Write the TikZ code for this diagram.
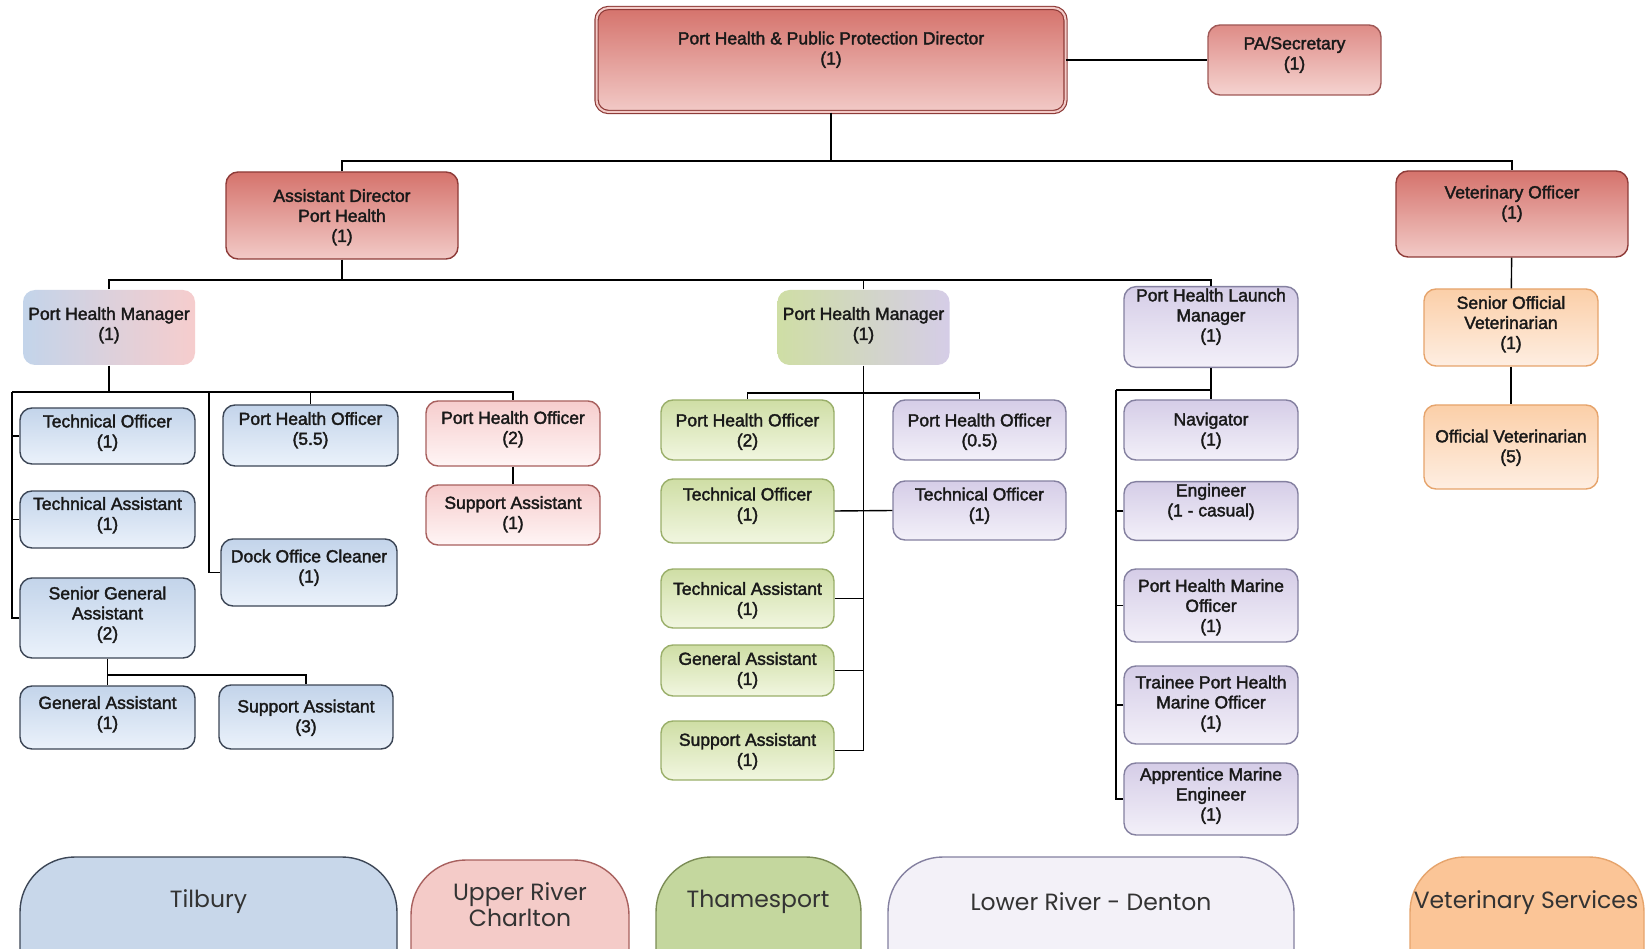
\documentclass[tikz,border=0pt]{standalone}
\usepackage{fontspec}
\setmainfont{Liberation Sans}
\newfontfamily\boxfont{Liberation Sans}[FakeBold=2]
\newfontfamily\legendfont{Poppins}
\usepackage{xcolor}
\usetikzlibrary{calc}

\definecolor{redtop}{HTML}{D5736C}
\definecolor{redbot}{HTML}{F2CAC7}
\definecolor{redline}{HTML}{8E3B38}
\definecolor{patop}{HTML}{DE8C87}
\definecolor{pabot}{HTML}{F5D3D0}
\definecolor{tiltop}{HTML}{C3D4EA}
\definecolor{tilbot}{HTML}{EBF2FB}
\definecolor{tilline}{HTML}{3C4656}
\definecolor{uprtop}{HTML}{F6CDCD}
\definecolor{uprbot}{HTML}{FFF5F5}
\definecolor{uprline}{HTML}{A8605E}
\definecolor{thmtop}{HTML}{CFDEA5}
\definecolor{thmbot}{HTML}{F1F6E0}
\definecolor{thmline}{HTML}{9AAF6A}
\definecolor{lowtop}{HTML}{D5CDE7}
\definecolor{lowbot}{HTML}{F3F0F9}
\definecolor{lowline}{HTML}{8480A0}
\definecolor{vettop}{HTML}{FBCFA8}
\definecolor{vetbot}{HTML}{FEEEE2}
\definecolor{vetline}{HTML}{E6A46C}
\definecolor{tilarea}{HTML}{C8D7EA}
\definecolor{uprarea}{HTML}{F4CBC8}
\definecolor{thmarea}{HTML}{C4D79E}
\definecolor{lowarea}{HTML}{F3F1F8}
\definecolor{vetarea}{HTML}{FBC597}

\begin{document}
\begin{tikzpicture}[x=1pt, y=-1pt,
		post/.style={line width=1.4pt, rounded corners=12pt, align=center, text=black!90,
			font=\boxfont\fontsize{17.5}{20}\selectfont, inner sep=2pt, text depth=10pt,
			minimum width=174pt},
		head/.style={post, draw=redline, top color=redtop, bottom color=redbot},
		pa/.style={post, draw=redline!85, top color=patop, bottom color=pabot},
		tilbury/.style={post, draw=tilline, top color=tiltop, bottom color=tilbot},
		upper/.style={post, draw=uprline, top color=uprtop, bottom color=uprbot},
		thames/.style={post, draw=thmline, top color=thmtop, bottom color=thmbot},
		lower/.style={post, draw=lowline, top color=lowtop, bottom color=lowbot},
		vet/.style={post, draw=vetline, top color=vettop, bottom color=vetbot},
		manager/.style={post, draw=none},
		link/.style={line width=1.4pt},
		area/.style={line width=1.4pt, rounded corners=55pt},
		areatext/.style={font=\legendfont\fontsize{23.5}{26}\selectfont, align=center, text=black!80}]
	\useasboundingbox (0,0) rectangle (1652,949);
	\fill[white] (0,0) rectangle (1652,949);

	\node[head, double=redbot, double distance=2pt, line width=1.2pt, minimum width=469pt, minimum height=104pt, text depth=24pt] (dir) at (831,60) {Port Health \& Public Protection Director\\(1)};
	\node[pa, minimum width=173pt, minimum height=70pt, text depth=14pt] (pa) at (1294.5,60) {PA/Secretary\\(1)};
	\node[head, minimum width=232pt, minimum height=87pt, text depth=0pt] (ad) at (342,215.5) {Assistant Director\\Port Health\\(1)};
	\node[head, minimum width=232pt, minimum height=86pt, text depth=24pt] (vo) at (1512,214) {Veterinary Officer\\(1)};

	\node[manager, left color=tiltop, right color=uprtop, minimum width=172pt, minimum height=75pt, text depth=8pt] (phm1) at (109,327.5) {Port Health Manager\\(1)};
	\node[manager, left color=thmtop, right color=lowtop, minimum width=172pt, minimum height=75pt, text depth=8pt] (phm2) at (863.5,327.5) {Port Health Manager\\(1)};
	\node[lower, minimum height=78pt, text depth=24pt] (phlm) at (1211,327) {Port Health Launch\\Manager\\(1)};
	\node[vet, minimum height=77pt, text depth=10pt] (sov) at (1511,327.5) {Senior Official\\Veterinarian\\(1)};
	\node[vet, minimum height=84pt, text depth=2pt] (ov) at (1511,447) {Official Veterinarian\\(5)};

	\node[tilbury, minimum width=175pt, minimum height=56pt] (tTO) at (107.5,436) {Technical Officer\\(1)};
	\node[tilbury, minimum width=175pt, minimum height=57pt, text depth=12pt] (tTA) at (107.5,519.5) {Technical Assistant\\(1)};
	\node[tilbury, minimum width=175pt, minimum height=80pt] (tSGA) at (107.5,618) {Senior General\\Assistant\\(2)};
	\node[tilbury, minimum width=175pt, minimum height=63pt] (tGA) at (107.5,717.5) {General Assistant\\(1)};
	\node[tilbury, minimum height=64pt, text depth=2pt] (tSA) at (306,717) {Support Assistant\\(3)};
	\node[tilbury, minimum width=175pt, minimum height=61pt, text depth=14pt] (tPHO) at (310.5,435.5) {Port Health Officer\\(5.5)};
	\node[tilbury, minimum width=176pt, minimum height=67pt, text depth=13pt] (tDOC) at (309,572.5) {Dock Office Cleaner\\(1)};
	\node[upper, minimum height=65pt, text depth=12pt] (uPHO) at (513,433.5) {Port Health Officer\\(2)};
	\node[upper, minimum height=60pt, text depth=5pt] (uSA) at (513,515) {Support Assistant\\(1)};

	\node[thames, minimum width=173pt, minimum height=60pt, text depth=0pt] (mPHO) at (747.5,430) {Port Health Officer\\(2)};
	\node[thames, minimum width=173pt, minimum height=64pt, text depth=14pt] (mTO) at (747.5,511) {Technical Officer\\(1)};
	\node[thames, minimum width=173pt, minimum height=59pt, text depth=0pt] (mTA) at (747.5,598.5) {Technical Assistant\\(1)};
	\node[thames, minimum width=173pt, minimum height=51pt, text depth=4pt] (mGA) at (747.5,670.5) {General Assistant\\(1)};
	\node[thames, minimum width=173pt, minimum height=59pt, text depth=2pt] (mSA) at (747.5,750.5) {Support Assistant\\(1)};
	\node[lower, minimum width=173pt, minimum height=60pt, text depth=0pt] (lPHO) at (979.5,430) {Port Health Officer\\(0.5)};
	\node[lower, minimum width=173pt, minimum height=59pt, text depth=13pt] (lTO) at (979.5,510.5) {Technical Officer\\(1)};

	\node[lower, minimum height=60pt, text depth=2pt] (lNav) at (1211,430) {Navigator\\(1)};
	\node[lower, minimum height=56pt, text depth=22pt] (lEng) at (1211,511) {Engineer\\(1 - casual)};
	\node[lower, minimum height=73pt, text depth=0pt] (lPHMO) at (1211,605.5) {Port Health Marine\\Officer\\(1)};
	\node[lower, minimum height=78pt, text depth=6pt] (lTPHMO) at (1211,705) {Trainee Port Health\\Marine Officer\\(1)};
	\node[lower, minimum height=72pt, text depth=10pt] (lAME) at (1211,799) {Apprentice Marine\\Engineer\\(1)};

	\coordinate (b1) at (831,161);
	\coordinate (b2) at (342,280);
	\coordinate (b3) at (109,392);
	\coordinate (t1) at (12,392);
	\coordinate (t2) at (209,392);
	\coordinate (b4) at (107.5,675);
	\coordinate (m1) at (863.5,393);
	\coordinate (l1) at (1116,390);

	\draw[link] (dir) -- (pa);
	\draw[link] (dir.south) -- (b1);
	\draw[link] (ad.north) |- (b1) -| (vo.north);
	\draw[link] (ad.south) -- (b2);
	\draw[link] (phm1.north) |- (b2) -| (phlm.north);
	\draw[link] (phm2.north) -- (phm2.north |- b2);
	\draw[link] (vo) -- (sov);
	\draw[link] (sov) -- (ov);

	\draw[link] (phm1.south) -- (b3);
	\draw[link] (t1) -| (uPHO.north);
	\draw[link] (t1) |- (tSGA.west);
	\draw[link] (tTO.west) -- (tTO.west -| t1);
	\draw[link] (tTA.west) -- (tTA.west -| t1);
	\draw[link] (t2) |- (tDOC.west);
	\draw[link] (tPHO.north) -- (tPHO.north |- b3);
	\draw[link] (uPHO) -- (uSA);
	\draw[link] (tSGA) -- (tGA);
	\draw[link] (b4) -| (tSA.north);

	\draw[link] (phm2.south) |- (mSA.east);
	\draw[link] (mPHO.north) |- (m1) -| (lPHO.north);
	\draw[link] (mTO.east) -- (lTO.west);
	\draw[link] (mTA.east) -- (mTA.east -| m1);
	\draw[link] (mGA.east) -- (mGA.east -| m1);

	\draw[link] (phlm) -- (lNav);
	\draw[link] (l1) -- (l1 -| lNav.north);
	\draw[link] (l1) |- (lAME.west);
	\draw[link] (lEng.west) -- (lEng.west -| l1);
	\draw[link] (lPHMO.west) -- (lPHMO.west -| l1);
	\draw[link] (lTPHMO.west) -- (lTPHMO.west -| l1);

	\begin{scope}
		\clip (0,0) rectangle (1652,949);
		\draw[area, draw=tilline, fill=tilarea] (20,857) rectangle (397,1020);
		\draw[area, draw=uprline, fill=uprarea] (411,860) rectangle (629,1020);
		\draw[area, draw=thmline!80!black, fill=thmarea] (656,857) rectangle (861,1020);
		\draw[area, draw=lowline, fill=lowarea] (888,857) rectangle (1294,1020);
		\draw[area, draw=vetline, fill=vetarea] (1410,857) rectangle (1644,1020);
	\end{scope}
	\node[areatext] (tilbury) at (208.5,902) {Tilbury};
	\node[areatext] (upperriver) at (520,905) {Upper River\\Charlton};
	\node[areatext] (thamesport) at (758,902) {Thamesport};
	\node[areatext] (lowerriver) at (1091,902) {Lower River - Denton};
	\node[areatext] (vetservices) at (1526,903) {Veterinary Services};
\end{tikzpicture}
\end{document}
